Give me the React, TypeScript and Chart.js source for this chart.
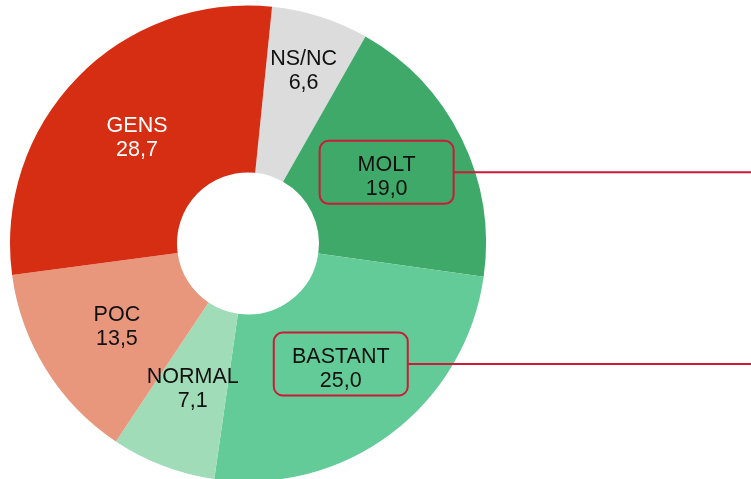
import React, { useEffect, useRef } from "react";
import { Chart, registerables } from "chart.js";

Chart.register(...registerables);

const categories = ["NS/NC", "MOLT", "BASTANT", "NORMAL", "POC", "GENS"];
const values = [6.6, 19.0, 25.0, 7.1, 13.5, 28.7];
const highlighted = ["MOLT", "BASTANT"];

const colors = ["#DCDCDC", "#3FA969", "#62CB97", "#9FDCB7", "#E8967C", "#D52E12"];
const textColors = ["#111111", "#111111", "#111111", "#111111", "#111111", "#FFFFFF"];
const labelRadiusFactor: Record<string, number> = { "NS/NC": 0.67 };

const FONT = '21.5px "Liberation Sans", Arial, sans-serif';
const BOX_COLOR = "#CC1A3A";

const labelPlugin = {
  id: "sliceLabels",
  afterDatasetsDraw(chart: any) {
    const ctx = chart.ctx as CanvasRenderingContext2D;
    const meta = chart.getDatasetMeta(0);
    const canvasW = chart.width;
    ctx.save();
    ctx.font = FONT;
    ctx.textAlign = "center";
    ctx.textBaseline = "alphabetic";
    meta.data.forEach((arc: any, i: number) => {
      const name = categories[i];
      const mid = (arc.startAngle + arc.endAngle) / 2;
      const f = labelRadiusFactor[name] ?? 0.5;
      const r = arc.innerRadius + (arc.outerRadius - arc.innerRadius) * f;
      const cx = arc.x + Math.cos(mid) * r;
      const cy = arc.y + Math.sin(mid) * r;
      const valText = values[i].toFixed(1).replace(".", ",");
      if (highlighted.includes(name)) {
        const bw = 134;
        const bh = 63;
        const bx = cx - bw / 2;
        const by = cy - 3 - bh / 2;
        ctx.strokeStyle = BOX_COLOR;
        ctx.lineWidth = 2;
        ctx.beginPath();
        (ctx as any).roundRect(bx, by, bw, bh, 9);
        ctx.stroke();
        ctx.beginPath();
        ctx.moveTo(bx + bw, by + bh / 2);
        ctx.lineTo(canvasW, by + bh / 2);
        ctx.stroke();
      }
      ctx.fillStyle = textColors[i];
      ctx.fillText(name, cx, cy - 4.5);
      ctx.fillText(valText, cx, cy + 19.5);
    });
    ctx.restore();
  },
};

export default function App() {
  const ref = useRef<HTMLCanvasElement>(null);
  useEffect(() => {
    document.body.style.margin = "0";
    const chart = new Chart(ref.current!, {
      type: "doughnut",
      data: {
        labels: categories,
        datasets: [
          {
            data: values,
            backgroundColor: colors,
            borderWidth: 0,
            hoverOffset: 0,
          },
        ],
      },
      options: {
        responsive: false,
        animation: false,
        rotation: 5.8,
        cutout: 71,
        layout: { padding: { left: 10, top: 5, right: 265, bottom: 2 } },
        plugins: { legend: { display: false }, tooltip: { enabled: false } },
      },
      plugins: [labelPlugin],
    });
    return () => chart.destroy();
  }, []);
  return (
    <div style={{ position: "fixed", left: 0, top: 0, width: 751, height: 479, overflow: "hidden", background: "#fff" }}>
      <canvas ref={ref} width={751} height={484} style={{ display: "block" }} />
    </div>
  );
}
